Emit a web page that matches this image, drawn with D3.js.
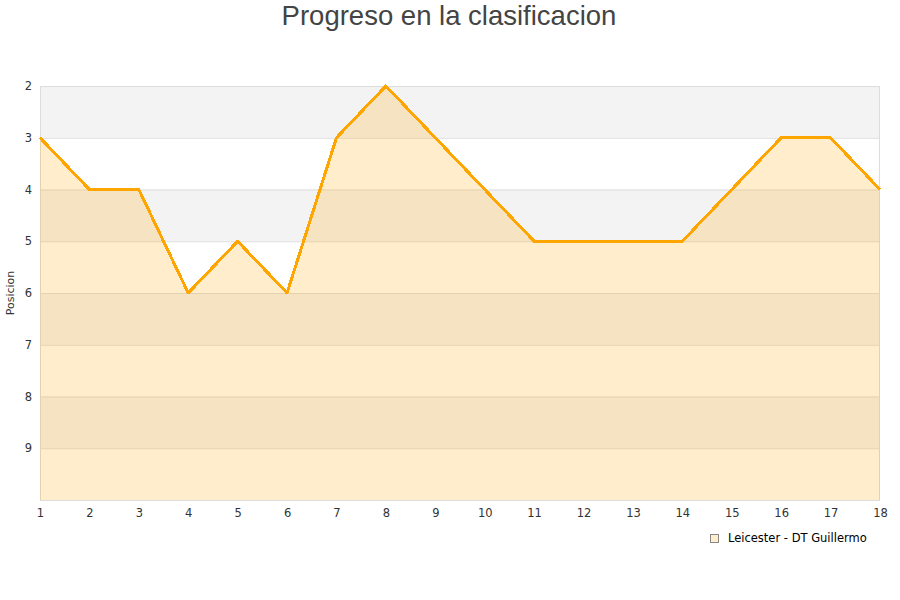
<!DOCTYPE html>
<html><head><meta charset="utf-8">
<script src="https://cdn.jsdelivr.net/npm/d3@7"></script>
<style>body{margin:0;background:#fff}</style>
</head><body><svg id="c" width="900" height="600"></svg>
<script>
const jornadas = [1,2,3,4,5,6,7,8,9,10,11,12,13,14,15,16,17,18];
const posiciones = [3,4,4,6,5,6,3,2,3,4,5,5,5,5,4,3,3,4];
const yTicks = [2,3,4,5,6,7,8,9];
const serieNombre = "Leicester - DT Guillermo";
const titulo = "Progreso en la clasificacion";

const svg = d3.select("#c");
const L=40,R=880,T=86,B=500;
const x = d3.scaleLinear().domain([1,18]).range([L,R]);
const y = d3.scaleLinear().domain([2,10]).range([T,B]);

const bands = d3.range(2,10);
svg.selectAll("rect.band").data(bands).enter().append("rect")
  .attr("x",L).attr("width",R-L)
  .attr("y",d=>y(d)).attr("height",d=>y(d+1)-y(d))
  .attr("fill",d=>d%2===0?"#f3f3f3":"#ffffff");
svg.selectAll("line.grid").data(d3.range(2,11)).enter().append("line")
  .attr("x1",L).attr("x2",R).attr("y1",d=>y(d)+0.5).attr("y2",d=>y(d)+0.5)
  .attr("stroke","#dddddd");
svg.append("line").attr("x1",L+0.5).attr("x2",L+0.5).attr("y1",T).attr("y2",B).attr("stroke","#dddddd");
svg.append("line").attr("x1",R-0.5).attr("x2",R-0.5).attr("y1",T).attr("y2",B).attr("stroke","#dddddd");

const data = jornadas.map((j,i)=>({j,p:posiciones[i]}));
svg.append("path").datum(data)
  .attr("d",d3.area().x(d=>x(d.j)).y0(B).y1(d=>y(d.p)))
  .attr("fill","orange").attr("fill-opacity",0.2);
svg.append("path").datum(data)
  .attr("d",d3.line().x(d=>x(d.j)).y(d=>y(d.p)))
  .attr("fill","none").attr("stroke","#ffa500").attr("stroke-width",3)
  .attr("stroke-linejoin","round").attr("shape-rendering","crispEdges");

const font="DejaVu Sans, sans-serif";
const yAxis = d3.axisLeft(y).tickValues(yTicks).tickSize(0).tickPadding(8);
const gy = svg.append("g").attr("transform",`translate(${L},0)`).call(yAxis);
gy.select(".domain").remove();
gy.selectAll("text").attr("font-family",font).attr("font-size",11.5).attr("fill","#333");
const xAxis = d3.axisBottom(x).tickValues(jornadas).tickSize(0).tickPadding(9);
const gx = svg.append("g").attr("transform",`translate(0,${B})`).call(xAxis);
gx.select(".domain").remove();
gx.selectAll("text").attr("font-family",font).attr("font-size",11.5).attr("fill","#333");

svg.append("text").attr("transform",`translate(14,${(T+B)/2}) rotate(-90)`)
  .attr("text-anchor","middle").attr("font-family",font).attr("font-size",11).attr("fill","#333")
  .text("Posicion");

svg.append("text").attr("x",449).attr("y",25).attr("text-anchor","middle")
  .attr("font-family","Liberation Sans, Arial, sans-serif").attr("font-size",27.5).attr("fill","#444")
  .text(titulo);

svg.append("rect").attr("x",710.5).attr("y",534.5).attr("width",8).attr("height",8)
  .attr("fill","#ffedcc").attr("stroke","#888");
svg.append("text").attr("x",728).attr("y",542).attr("font-family",font).attr("font-size",11.5).attr("fill","#000")
  .text(serieNombre);
</script></body></html>
